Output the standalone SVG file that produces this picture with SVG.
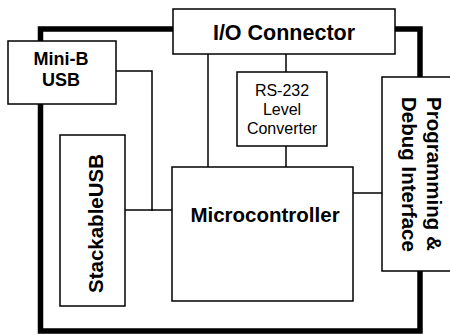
<svg xmlns="http://www.w3.org/2000/svg" width="450" height="335" viewBox="0 0 450 335">
<style>
.box{fill:#fff;stroke:#000;stroke-width:1.5}
.thick{fill:none;stroke:#000;stroke-width:5.5;stroke-linejoin:miter}
.thin{fill:none;stroke:#000;stroke-width:1.5}
.b{font-family:"Liberation Sans",Arial,sans-serif;font-weight:bold;font-size:20.5px;fill:#000}
.s{font-family:"Liberation Sans",Arial,sans-serif;font-weight:bold;font-size:18px;fill:#000}
.r{font-family:"Liberation Sans",Arial,sans-serif;font-size:16px;fill:#000}
</style>
<rect width="450" height="335" fill="#fff"/>
<g id="connectors">
<path class="thick" d="M173 29 H40.5 V41 M40.5 104 V331 H420 V271 M420 77 V29 H395"/>
<path class="thin" d="M116 71 H152 V211"/>
<path class="thin" d="M125 210 H172"/>
<path class="thin" d="M208 54 V167"/>
<path class="thin" d="M286 54 V72 M286 146 V167"/>
<path class="thin" d="M353 193 H382"/>
</g>
<g id="io">
<rect class="box" x="173" y="9" width="222" height="45"/>
<text class="b" x="284" y="40" text-anchor="middle" style="font-size:21.5px">I/O Connector</text>
</g>
<g id="minib">
<rect class="box" x="8" y="41" width="108" height="63"/>
<text class="s" x="61" y="65" text-anchor="middle">Mini-B</text>
<text class="s" x="61" y="86" text-anchor="middle">USB</text>
</g>
<g id="rs232">
<rect class="box" x="237" y="72" width="90" height="74"/>
<text class="r" x="282" y="96" text-anchor="middle">RS-232</text>
<text class="r" x="282" y="115" text-anchor="middle">Level</text>
<text class="r" x="282" y="134" text-anchor="middle">Converter</text>
</g>
<g id="stackable">
<rect class="box" x="60" y="135" width="65" height="171"/>
<text class="b" transform="translate(103 223.5) rotate(-90)" text-anchor="middle">StackableUSB</text>
</g>
<g id="micro">
<rect class="box" x="172" y="167" width="181" height="134"/>
<text class="b" x="265" y="222" text-anchor="middle">Microcontroller</text>
</g>
<g id="prog">
<rect class="box" x="382" y="77" width="72" height="194"/>
<text class="b" transform="translate(427 97) rotate(90)">Programming &amp;</text>
<text class="b" transform="translate(402 97) rotate(90)">Debug Interface</text>
</g>
</svg>
